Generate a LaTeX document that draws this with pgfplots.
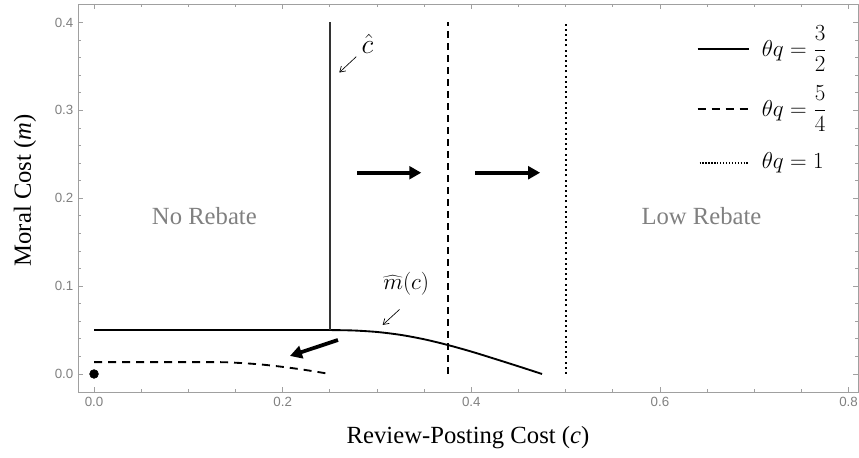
\documentclass[border=0pt]{standalone}
\usepackage{fontspec}
\setmainfont{Liberation Serif}
\setsansfont{Liberation Sans}
\usepackage{pgfplots}
\pgfplotsset{compat=1.18}
\usetikzlibrary{arrows.meta}
\definecolor{tickgray}{RGB}{130,130,130}
\definecolor{framegray}{RGB}{160,160,160}
\definecolor{txtgray}{RGB}{128,128,128}
\begin{document}
\begin{tikzpicture}
\begin{axis}[
  scale only axis, width=585pt, height=291pt,
  xmin=-0.017, xmax=0.81, ymin=-0.0205, ymax=0.421,
  xtick={0,0.2,0.4,0.6,0.8}, ytick={0,0.1,0.2,0.3,0.4},
  minor x tick num=3, minor y tick num=4,
  tick pos=both, tick align=inside,
  major tick length=4pt, minor tick length=2.5pt,
  axis line style={framegray, line width=0.6pt},
  every tick/.style={framegray, line width=0.5pt},
  tick label style={font=\sffamily\fontsize{10}{12}\selectfont, text=txtgray},
  /pgf/number format/fixed, /pgf/number format/fixed zerofill,
  /pgf/number format/precision=1, /pgf/number format/assume math mode=true,
  xlabel={Review-Posting Cost (\textit{c})},
  ylabel={Moral Cost (\textit{m})},
  every axis x label/.style={at={(rel axis cs:0.5,0)}, yshift=-34.5pt, anchor=center, font=\fontsize{18.5}{20}\selectfont},
  every axis y label/.style={at={(rel axis cs:0,0.52)}, xshift=-39.75pt, rotate=90, anchor=center, font=\fontsize{18.5}{20}\selectfont},
  clip=false,
]
% theta q = 3/2
\addplot[black, line width=1.4pt] coordinates {(0,0.05) (0.25,0.05)};
\addplot[black, line width=1.4pt, smooth, tension=0.5] coordinates {
 (0.25,0.05) (0.275,0.0495) (0.3,0.0478) (0.325,0.0445) (0.35,0.0395)
 (0.375,0.0330) (0.4,0.0255) (0.425,0.0172) (0.45,0.0087) (0.475,0)};
\addplot[black!80, line width=1.4pt] coordinates {(0.25,0.05) (0.25,0.4)};
% theta q = 5/4
\addplot[black, line width=1.4pt, dash pattern=on 5.5pt off 3.5pt] coordinates {(0.375,0) (0.375,0.4)};
\addplot[black, line width=1.4pt, dash pattern=on 6pt off 4.5pt, smooth, tension=0.5] coordinates {
 (0,0.0135) (0.125,0.0135) (0.15,0.0128) (0.175,0.0110) (0.2,0.0081) (0.225,0.0044) (0.25,0)};
% theta q = 1
\addplot[black, line width=1.5pt, dash pattern=on 1.5pt off 2.4pt] coordinates {(0.5,0) (0.5,0.4)};
\addplot[only marks, mark=*, mark size=3.3pt, black] coordinates {(0,0)};

% legend samples
\addplot[black, line width=1.5pt] coordinates {(0.640,0.370) (0.694,0.370)};
\addplot[black, line width=1.5pt, dash pattern=on 6pt off 4.5pt] coordinates {(0.640,0.3018) (0.694,0.3018)};
\addplot[black, line width=1.3pt, dash pattern=on 1pt off 1.2pt] coordinates {(0.642,0.2403) (0.694,0.2403)};
\node[anchor=west, font=\fontsize{16.5}{18}\selectfont] at (axis cs:0.703,0.370) {$\theta q = \displaystyle\frac{3}{2}$};
\node[anchor=west, font=\fontsize{16.5}{18}\selectfont] at (axis cs:0.703,0.3018) {$\theta q = \displaystyle\frac{5}{4}$};
\node[anchor=west, font=\fontsize{16.5}{18}\selectfont] at (axis cs:0.703,0.2403) {$\theta q = 1$};

% thick arrows
\addplot[black, line width=2.8pt, -{Triangle[length=9pt,width=9.5pt]}] coordinates {(0.279,0.229) (0.347,0.229)};
\addplot[black, line width=2.8pt, -{Triangle[length=9pt,width=9.5pt]}] coordinates {(0.404,0.229) (0.473,0.229)};
\addplot[black, line width=2.8pt, -{Triangle[length=9pt,width=9.5pt]}] coordinates {(0.2586,0.0387) (0.2077,0.0205)};

% thin arrows
\addplot[black, line width=0.5pt, -{Straight Barb[length=4pt,width=5pt]}] coordinates {(0.278,0.361) (0.260,0.343)};
\addplot[black, line width=0.5pt, -{Straight Barb[length=4pt,width=5pt]}] coordinates {(0.324,0.0735) (0.306,0.0558)};

\node[font=\fontsize{20}{22}\selectfont] at (axis cs:0.290,0.376) {$\hat{c}$};
\node[font=\fontsize{19}{22}\selectfont] at (axis cs:0.331,0.1025) {$\widehat{m}(c)$};
\node[font=\fontsize{18.5}{20}\selectfont, text=txtgray, anchor=base] at (axis cs:0.117,0.1697) {No Rebate};
\node[font=\fontsize{18.5}{20}\selectfont, text=txtgray, anchor=base] at (axis cs:0.644,0.1697) {Low Rebate};
\end{axis}
\pgfresetboundingbox
\path[use as bounding box] ([shift={(-58.5pt,-49.5pt)}]current axis.south west) rectangle ([shift={(0.75pt,3pt)}]current axis.north east);
\end{tikzpicture}
\end{document}
